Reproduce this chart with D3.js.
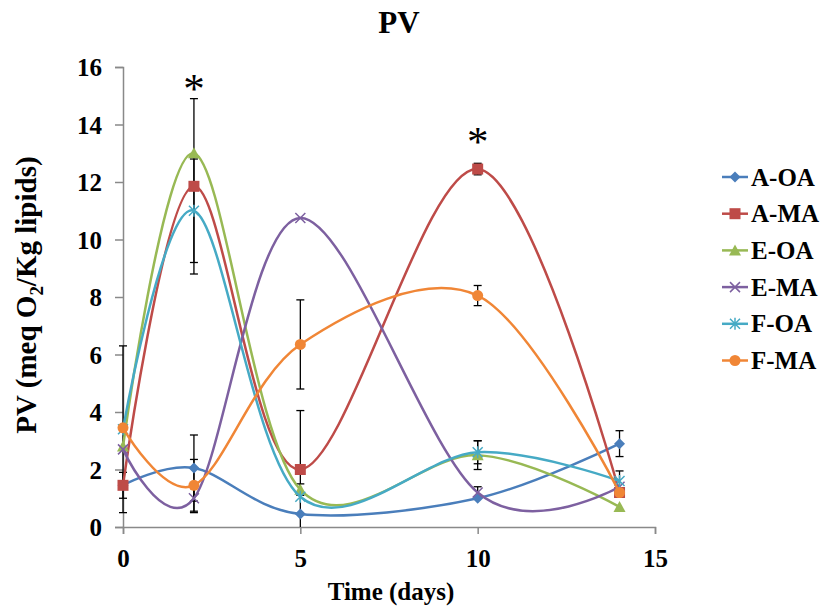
<!DOCTYPE html>
<meta charset="utf-8">
<script src="https://d3js.org/d3.v7.min.js"></script>
<style>
  body { margin: 0; background: #fff; }
  text { font-family: "Liberation Serif", "Times New Roman", serif; font-weight: bold; }
</style>
<body>
<div id="chart"></div>
<script>
  // data
  var days = [0, 2, 5, 10, 14]
  var seriesNames = ["A-OA", "A-MA", "E-OA", "E-MA", "F-OA", "F-MA"]
  var aOA = [1.45, 2.05, 0.45, 1.0, 2.9]
  var aMA = [1.45, 11.85, 2.0, 12.45, 1.2]
  var eOA = [2.8, 13.0, 1.3, 2.5, 0.7]
  var eMA = [2.7, 1.0, 10.75, 1.2, 1.4]
  var fOA = [3.4, 11.0, 1.05, 2.6, 1.6]
  var fMA = [3.45, 1.45, 6.35, 8.05, 1.2]
  // error bar half-widths
  var aOAerr = [0.45, 1.15, 0, 0, 0.45]
  var aMAerr = [0, 3.05, 2.05, 0.2, 0]
  var eOAerr = [0, 0, 0.2, 0.5, 0]
  var eMAerr = [0, 0.5, 0, 0.2, 0]
  var fOAerr = [2.9, 1.8, 0, 0.4, 0.35]
  var fMAerr = [0, 0.9, 1.55, 0.35, 0]
  var xTicks = [0, 5, 10, 15]
  var yTicks = [0, 2, 4, 6, 8, 10, 12, 14, 16]
  var starDays = [2, 10]
  var starVals = [15.45, 13.6]

  var colors = ["#4A7EBB", "#BE4B48", "#98B954", "#7D60A0", "#46AAC5", "#F08636"]
  var symbols = ["diamond", "square", "triangle", "x", "star", "circle"]
  var values = [aOA, aMA, eOA, eMA, fOA, fMA]
  var errs = [aOAerr, aMAerr, eOAerr, eMAerr, fOAerr, fMAerr]

  var width = 823, height = 612
  var svg = d3.select("#chart").append("svg")
    .attr("width", width).attr("height", height)

  var x = d3.scaleLinear().domain([0, 15]).range([123, 655])
  var y = d3.scaleLinear().domain([0, 16]).range([527, 67])

  // title
  svg.append("text").attr("x", 399).attr("y", 33)
    .attr("text-anchor", "middle").style("font-size", "31px").text("PV")

  // axes
  var xAxis = svg.append("g").attr("transform", "translate(0," + y(0) + ")")
    .call(d3.axisBottom(x).tickValues(xTicks).tickSize(7))
  var yAxis = svg.append("g").attr("transform", "translate(" + x(0) + ",0)")
    .call(d3.axisLeft(y).tickValues(yTicks).tickSize(8).tickPadding(13))
  ;[xAxis, yAxis].forEach(function(a) {
    a.select(".domain").attr("stroke", "#898989").attr("stroke-width", 1.5)
    a.selectAll(".tick line").attr("stroke", "#898989").attr("stroke-width", 1.5)
    a.selectAll(".tick text").attr("fill", "#000")
      .style("font-size", "25px").style("font-family", "Liberation Serif").style("font-weight", "bold")
  })
  xAxis.selectAll(".tick text").attr("y", 40).attr("dy", 0)
  yAxis.selectAll(".tick text").attr("dy", "0.34em")

  // axis titles
  svg.append("text").attr("x", 391).attr("y", 600)
    .attr("text-anchor", "middle").style("font-size", "25px").text("Time (days)")
  var yt = svg.append("text").attr("transform", "translate(36,295) rotate(-90)")
    .attr("text-anchor", "middle").style("font-size", "29px")
  yt.append("tspan").text("PV (meq O")
  yt.append("tspan").attr("dy", 7).style("font-size", "19px").text("2")
  yt.append("tspan").attr("dy", -7).text("/Kg lipids)")

  var line = d3.line().curve(d3.curveCardinal.tension(0))
    .x(function(d, i) { return x(days[i]) })
    .y(function(d) { return y(d) })

  // error bars
  errs.forEach(function(e, s) {
    var g = svg.append("g").attr("stroke", "#000").attr("stroke-width", 1.3)
    e.forEach(function(v, i) {
      if (!v) return
      var cx = x(days[i]), y1 = y(values[s][i] + v), y2 = y(Math.max(0, values[s][i] - v))
      g.append("line").attr("x1", cx).attr("x2", cx).attr("y1", y1).attr("y2", y2)
      g.append("line").attr("x1", cx - 4).attr("x2", cx + 4).attr("y1", y1).attr("y2", y1)
      if (values[s][i] - v > 0)
        g.append("line").attr("x1", cx - 4).attr("x2", cx + 4).attr("y1", y2).attr("y2", y2)
    })
  })

  function marker(g, type, color, cx, cy) {
    if (type === "diamond") {
      g.append("path").attr("d", "M0,-5.5L5.5,0L0,5.5L-5.5,0Z").attr("fill", color)
        .attr("transform", "translate(" + cx + "," + cy + ")")
    } else if (type === "square") {
      g.append("rect").attr("x", cx - 5.5).attr("y", cy - 5.5).attr("width", 11).attr("height", 11).attr("fill", color)
    } else if (type === "triangle") {
      g.append("path").attr("d", "M0,-6L6,5L-6,5Z").attr("fill", color)
        .attr("transform", "translate(" + cx + "," + cy + ")")
    } else if (type === "x") {
      g.append("path").attr("d", "M-5,-5L5,5M-5,5L5,-5").attr("stroke", color).attr("stroke-width", 1.5)
        .attr("transform", "translate(" + cx + "," + cy + ")")
    } else if (type === "star") {
      g.append("path").attr("d", "M-5,-5L5,5M-5,5L5,-5M0,-6L0,6").attr("stroke", color).attr("stroke-width", 1.5)
        .attr("transform", "translate(" + cx + "," + cy + ")")
    } else {
      g.append("circle").attr("cx", cx).attr("cy", cy).attr("r", 5.5).attr("fill", color)
    }
  }

  values.forEach(function(v, s) {
    var g = svg.append("g")
    g.append("path").datum(v).attr("d", line).attr("fill", "none")
      .attr("stroke", colors[s]).attr("stroke-width", 2.5)
    v.forEach(function(d, i) { marker(g, symbols[s], colors[s], x(days[i]), y(d)) })
  })

  // significance stars
  starDays.forEach(function(d, i) {
    svg.append("text").attr("x", x(d)).attr("y", y(starVals[i]) + 20)
      .attr("text-anchor", "middle").style("font-size", "43px").style("font-weight", "normal").text("*")
  })

  // legend
  var legend = svg.append("g")
  seriesNames.forEach(function(n, i) {
    var ly = 177 + i * 36.7
    legend.append("line").attr("x1", 722).attr("x2", 748).attr("y1", ly).attr("y2", ly)
      .attr("stroke", colors[i]).attr("stroke-width", 2.5)
    marker(legend, symbols[i], colors[i], 735, ly)
    legend.append("text").attr("x", 751).attr("y", ly + 8.5).style("font-size", "25px").text(n)
  })
</script>
</body>
